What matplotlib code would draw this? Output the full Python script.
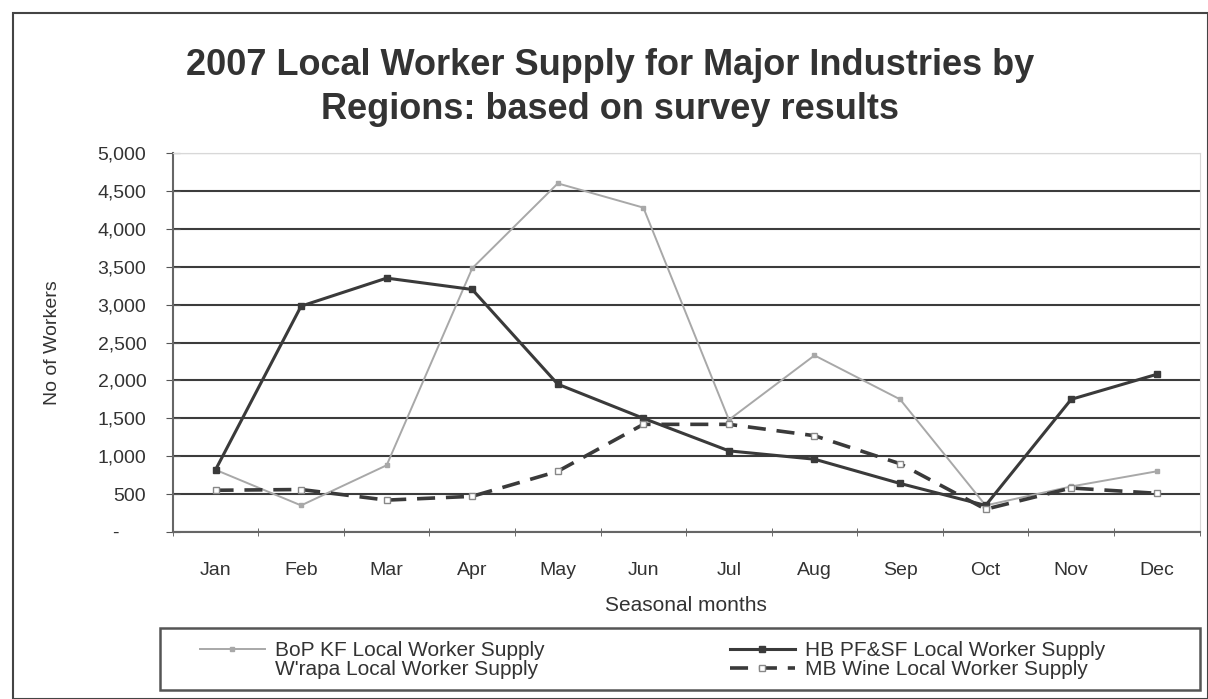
import matplotlib
matplotlib.use("Agg")
import matplotlib.pyplot as plt
from matplotlib.patches import Rectangle

plt.rcParams['font.family'] = ['Liberation Sans', 'DejaVu Sans']

# data
months = ['Jan', 'Feb', 'Mar', 'Apr', 'May', 'Jun', 'Jul', 'Aug', 'Sep', 'Oct', 'Nov', 'Dec']
bop_kf = [820, 350, 880, 3480, 4600, 4280, 1480, 2330, 1750, 350, 600, 800]
hb_pfsf = [820, 2980, 3350, 3200, 1950, 1500, 1070, 960, 640, 350, 1750, 2080]
mb_wine = [550, 560, 420, 470, 800, 1420, 1420, 1270, 900, 300, 580, 510]
yticks = [0, 500, 1000, 1500, 2000, 2500, 3000, 3500, 4000, 4500, 5000]
ytick_labels = ['-     ', '500', '1,000', '1,500', '2,000', '2,500', '3,000', '3,500', '4,000', '4,500', '5,000']

fig = plt.figure(figsize=(12.08, 6.99), dpi=100)
ax = fig.add_axes([0.143, 0.239, 0.850, 0.542])

x = range(len(months))
ax.plot(x, bop_kf, color='#a8a8a8', lw=1.4, marker='s', ms=3, mfc='#a8a8a8', mec='#a8a8a8',
        label='BoP KF Local Worker Supply', zorder=3)
ax.plot([], [], color='white', lw=1.4, label="W'rapa Local Worker Supply")
ax.plot(x, hb_pfsf, color='#3a3a3a', lw=2.2, marker='s', ms=4, mfc='#3a3a3a', mec='#3a3a3a',
        label='HB PF&SF Local Worker Supply', zorder=4)
ax.plot(x, mb_wine, color='#3a3a3a', lw=2.6, ls=(0, (5, 3)), marker='s', ms=5, mfc='white', mec='#888888',
        label='MB Wine Local Worker Supply', zorder=5)

ax.set_xlim(-0.5, 11.5)
ax.set_ylim(0, 5000)
ax.set_yticks(yticks)
ax.set_yticklabels(ytick_labels, fontsize=14, color='#333333')
ax.set_xticks(list(x))
ax.set_xticklabels(months, fontsize=14, color='#333333')
ax.set_xticks([i + 0.5 for i in range(-1, 12)], minor=True)
ax.tick_params(axis='x', which='major', length=0, pad=22)
ax.tick_params(axis='x', which='minor', length=6, direction='inout', color='#555555')
ax.tick_params(axis='y', length=10, direction='inout', color='#555555', pad=14)

ax.yaxis.grid(True, color='#3c3c3c', lw=1.5)
ax.set_axisbelow(True)
for side in ['top', 'right']:
    ax.spines[side].set_color('#d8d8d8')
for side in ['left', 'bottom']:
    ax.spines[side].set_color('#666666')
    ax.spines[side].set_linewidth(1.5)

ax.set_ylabel('No of Workers', fontsize=14, labelpad=26, color='#333333')
ax.set_xlabel('Seasonal months', fontsize=15, labelpad=12, color='#333333')

fig.text(0.505, 0.875, '2007 Local Worker Supply for Major Industries by\nRegions: based on survey results',
         ha='center', va='center', fontsize=26, fontweight='bold', color='#333333', linespacing=1.35)

# legend without frame; the frame is drawn as its own box below
leg = fig.legend(loc='upper left', bbox_to_anchor=(200 / 1208, 1 - 641 / 699),
                 borderaxespad=0, borderpad=0, ncol=2, fontsize=15, frameon=False,
                 handlelength=3.1, labelspacing=0.0, handletextpad=0.5, columnspacing=8.9)
for t in leg.get_texts():
    t.set_color('#333333')

fig.patches.append(Rectangle((160 / 1208, 1 - 690 / 699), 1040 / 1208, 62 / 699, transform=fig.transFigure,
                             fill=False, edgecolor='#555555', lw=1.8))

# outer chart border
fig.patches.append(Rectangle((0.011, 0.0), 0.989, 0.982, transform=fig.transFigure,
                             fill=False, edgecolor='#444444', lw=1.5))

plt.savefig('out.png', dpi=100)
